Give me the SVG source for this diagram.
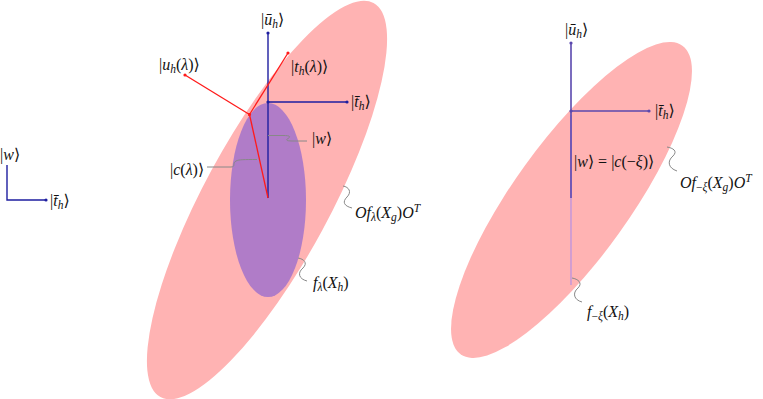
<svg xmlns="http://www.w3.org/2000/svg" width="763" height="399" viewBox="0 0 763 399">
<style>
.lbl{font-family:"Liberation Serif","DejaVu Serif",serif;font-size:16px;fill:#111}
.it{font-style:italic}
.s{font-size:11.5px}
.pink{fill:#ffb3b3}
.purple{fill:#b07cc8}
.blue{stroke:#1e1ea0;stroke-width:1.4;fill:none}
.rblue{stroke:#5a48ae;stroke-width:1.6;fill:none}
.red{stroke:#ff1a1a;stroke-width:1.3;fill:none}
.lead{stroke:#888;stroke-width:1;fill:none}
</style>
<defs>
<marker id="db" viewBox="0 0 4 4" refX="2" refY="2" markerWidth="4" markerHeight="4" markerUnits="userSpaceOnUse"><circle cx="2" cy="2" r="1.6" fill="#1e1ea0"/></marker>
<marker id="dr" viewBox="0 0 4 4" refX="2" refY="2" markerWidth="4" markerHeight="4" markerUnits="userSpaceOnUse"><circle cx="2" cy="2" r="1.6" fill="#ff1a1a"/></marker>
<marker id="dp" viewBox="0 0 4 4" refX="2" refY="2" markerWidth="4" markerHeight="4" markerUnits="userSpaceOnUse"><circle cx="2" cy="2" r="1.6" fill="#5a48ae"/></marker>
</defs>

<g id="left-Ofg"><ellipse class="pink" cx="267" cy="200" rx="224" ry="63" transform="rotate(-61.6 267 200)"/></g>
<g id="left-fh"><ellipse class="purple" cx="268" cy="200" rx="38" ry="97"/></g>
<g id="right-Ofg"><ellipse class="pink" cx="571.5" cy="200" rx="190" ry="58" transform="rotate(-54.3 571.5 200)"/></g>
<g id="right-fh"><line x1="571" y1="115" x2="571" y2="285" stroke="#c898d8" stroke-width="1.6"/></g>

<g id="connectors">
  <path class="blue" d="M7 165 V200 H46" marker-end="url(#db)"/>
  <line class="blue" x1="268" y1="198" x2="268" y2="33" marker-end="url(#db)"/>
  <line class="blue" x1="268" y1="102" x2="347" y2="102" marker-start="url(#db)" marker-end="url(#db)"/>
  <line class="red" x1="268" y1="198" x2="249.5" y2="114.5"/>
  <line class="red" x1="249.5" y1="114.5" x2="185" y2="75" marker-start="url(#dr)" marker-end="url(#dr)"/>
  <line class="red" x1="249.5" y1="114.5" x2="288" y2="53" marker-end="url(#dr)"/>
  <line class="rblue" x1="571" y1="198" x2="571" y2="43" marker-end="url(#dp)"/>
  <line class="rblue" x1="571" y1="111" x2="649" y2="111" marker-start="url(#dp)" marker-end="url(#dp)"/>
  <path class="lead" d="M268 135.5 H283 C288 135.5 292 136 288 138.5 C284 141 290 141 294 141 H307"/>
  <path class="lead" d="M207 167 H231 C236 167 232 163 236 161 C239 159.5 244 159.5 257 159.5"/>
  <path class="lead" d="M343 186 C349 187 352 192 347 197 C342 202 344 206 352 208"/>
  <path class="lead" d="M298 258 C304 259 308 263 303 268 C297 273 299 279 307 281"/>
  <path class="lead" d="M667 147 C673 148 678 151 673 156 C667 161 668 168 677 171"/>
  <path class="lead" d="M572 278 C578 279 583 283 578 288 C572 293 574 300 582 302"/>
</g>

<g id="lbl-legend-w"><text class="lbl" x="0" y="160">|<tspan class="it">w</tspan>⟩</text></g>
<g id="lbl-legend-t"><text class="lbl" x="50" y="206">|<tspan class="it">t̄</tspan><tspan class="it s" dy="3">h</tspan><tspan dy="-3">⟩</tspan></text></g>

<g id="lbl-left-u"><text class="lbl" x="261" y="25">|<tspan class="it">ū</tspan><tspan class="it s" dy="3">h</tspan><tspan dy="-3">⟩</tspan></text></g>
<g id="lbl-left-t"><text class="lbl" x="351" y="107">|<tspan class="it">t̄</tspan><tspan class="it s" dy="3">h</tspan><tspan dy="-3">⟩</tspan></text></g>
<g id="lbl-uh"><text class="lbl" x="159" y="70">|<tspan class="it">u</tspan><tspan class="it s" dy="3">h</tspan><tspan dy="-3">(</tspan><tspan class="it">λ</tspan>)⟩</text></g>
<g id="lbl-th"><text class="lbl" x="291" y="72">|<tspan class="it">t</tspan><tspan class="it s" dy="3">h</tspan><tspan dy="-3">(</tspan><tspan class="it">λ</tspan>)⟩</text></g>
<g id="lbl-w"><text class="lbl" x="312" y="144">|<tspan class="it">w</tspan>⟩</text></g>
<g id="lbl-c"><text class="lbl" x="170" y="175">|<tspan class="it">c</tspan>(<tspan class="it">λ</tspan>)⟩</text></g>
<g id="lbl-Ofl"><text class="lbl" x="355" y="218"><tspan class="it">Of</tspan><tspan class="it s" dy="3">λ</tspan><tspan dy="-3">(</tspan><tspan class="it">X</tspan><tspan class="it s" dy="3">g</tspan><tspan dy="-3">)</tspan><tspan class="it">O</tspan><tspan class="it s" dy="-6">T</tspan></text></g>
<g id="lbl-fl"><text class="lbl" x="313" y="288"><tspan class="it">f</tspan><tspan class="it s" dy="3">λ</tspan><tspan dy="-3">(</tspan><tspan class="it">X</tspan><tspan class="it s" dy="3">h</tspan><tspan dy="-3">)</tspan></text></g>

<g id="lbl-right-u"><text class="lbl" x="565" y="35">|<tspan class="it">ū</tspan><tspan class="it s" dy="3">h</tspan><tspan dy="-3">⟩</tspan></text></g>
<g id="lbl-right-t"><text class="lbl" x="655" y="116">|<tspan class="it">t̄</tspan><tspan class="it s" dy="3">h</tspan><tspan dy="-3">⟩</tspan></text></g>
<g id="lbl-wc"><text class="lbl" x="574" y="167">|<tspan class="it">w</tspan>⟩ = |<tspan class="it">c</tspan>(−<tspan class="it">ξ</tspan>)⟩</text></g>
<g id="lbl-Ofx"><text class="lbl" x="680" y="188"><tspan class="it">Of</tspan><tspan class="s" dy="3">−</tspan><tspan class="it s">ξ</tspan><tspan dy="-3">(</tspan><tspan class="it">X</tspan><tspan class="it s" dy="3">g</tspan><tspan dy="-3">)</tspan><tspan class="it">O</tspan><tspan class="it s" dy="-6">T</tspan></text></g>
<g id="lbl-fx"><text class="lbl" x="587" y="317"><tspan class="it">f</tspan><tspan class="s" dy="3">−</tspan><tspan class="it s">ξ</tspan><tspan dy="-3">(</tspan><tspan class="it">X</tspan><tspan class="it s" dy="3">h</tspan><tspan dy="-3">)</tspan></text></g>
</svg>
